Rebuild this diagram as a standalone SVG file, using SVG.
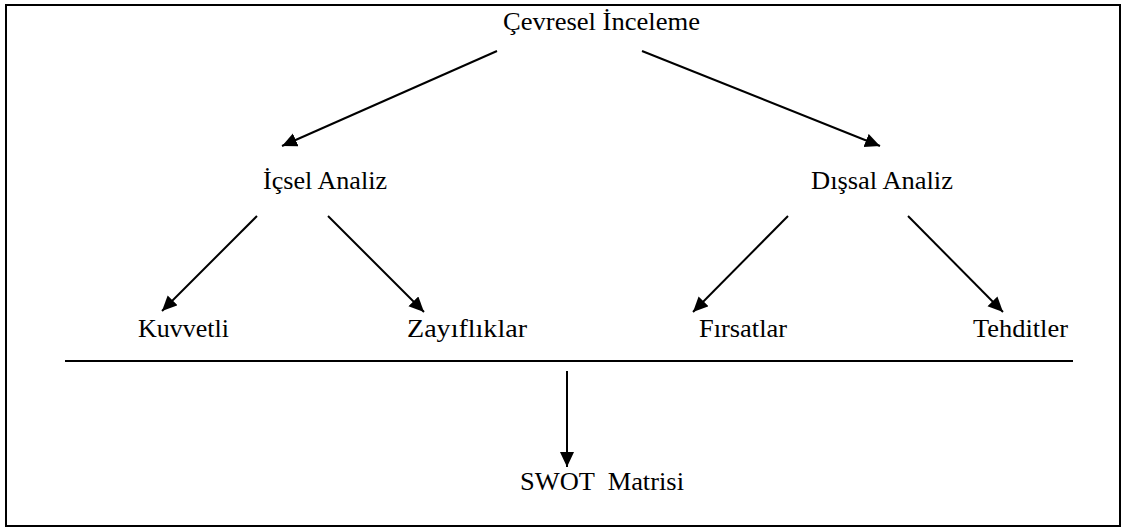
<svg xmlns="http://www.w3.org/2000/svg" width="1125" height="532" viewBox="0 0 1125 532">
  <style>
    .lbl { font-family: "Liberation Serif", "Times New Roman", serif; font-size: 24.5px; fill: #000; }
    .edge { stroke: #000; stroke-width: 2; fill: none; }
  </style>
  <defs>
    <marker id="arrow" markerUnits="userSpaceOnUse" markerWidth="16" markerHeight="16" refX="15" refY="7" orient="auto">
      <path d="M0,0 L15,7 L0,14 z" fill="#000"/>
    </marker>
  </defs>
  <rect x="0" y="0" width="1125" height="532" fill="#fff"/>
  <!-- frame -->
  <rect x="6" y="5" width="1114" height="521" fill="none" stroke="#000" stroke-width="2"/>

  <g id="cevresel"><text class="lbl" x="503" y="30" textLength="197" lengthAdjust="spacingAndGlyphs">Çevresel İnceleme</text></g>
  <g id="icsel"><text class="lbl" x="263" y="189" textLength="124" lengthAdjust="spacingAndGlyphs">İçsel Analiz</text></g>
  <g id="dissal"><text class="lbl" x="811" y="189" textLength="142" lengthAdjust="spacingAndGlyphs">Dışsal Analiz</text></g>
  <g id="kuvvetli"><text class="lbl" x="138" y="337" textLength="91" lengthAdjust="spacingAndGlyphs">Kuvvetli</text></g>
  <g id="zayifliklar"><text class="lbl" x="407" y="337" textLength="120" lengthAdjust="spacingAndGlyphs">Zayıflıklar</text></g>
  <g id="firsatlar"><text class="lbl" x="699" y="337" textLength="88" lengthAdjust="spacingAndGlyphs">Fırsatlar</text></g>
  <g id="tehditler"><text class="lbl" x="973" y="337" textLength="95" lengthAdjust="spacingAndGlyphs">Tehditler</text></g>
  <g id="swot"><text class="lbl" x="520" y="490" textLength="164" lengthAdjust="spacingAndGlyphs" xml:space="preserve">SWOT  Matrisi</text></g>

  <g id="connectors">
    <line class="edge" x1="497" y1="51" x2="282" y2="146" marker-end="url(#arrow)"/>
    <line class="edge" x1="642" y1="51" x2="880" y2="146" marker-end="url(#arrow)"/>
    <line class="edge" x1="257" y1="216" x2="162" y2="311" marker-end="url(#arrow)"/>
    <line class="edge" x1="328" y1="216" x2="424" y2="312" marker-end="url(#arrow)"/>
    <line class="edge" x1="788" y1="216" x2="693" y2="312" marker-end="url(#arrow)"/>
    <line class="edge" x1="908" y1="216" x2="1003" y2="312" marker-end="url(#arrow)"/>
    <line class="edge" x1="65" y1="361" x2="1073" y2="361"/>
    <line class="edge" x1="567" y1="371" x2="567" y2="467" marker-end="url(#arrow)"/>
  </g>
</svg>
